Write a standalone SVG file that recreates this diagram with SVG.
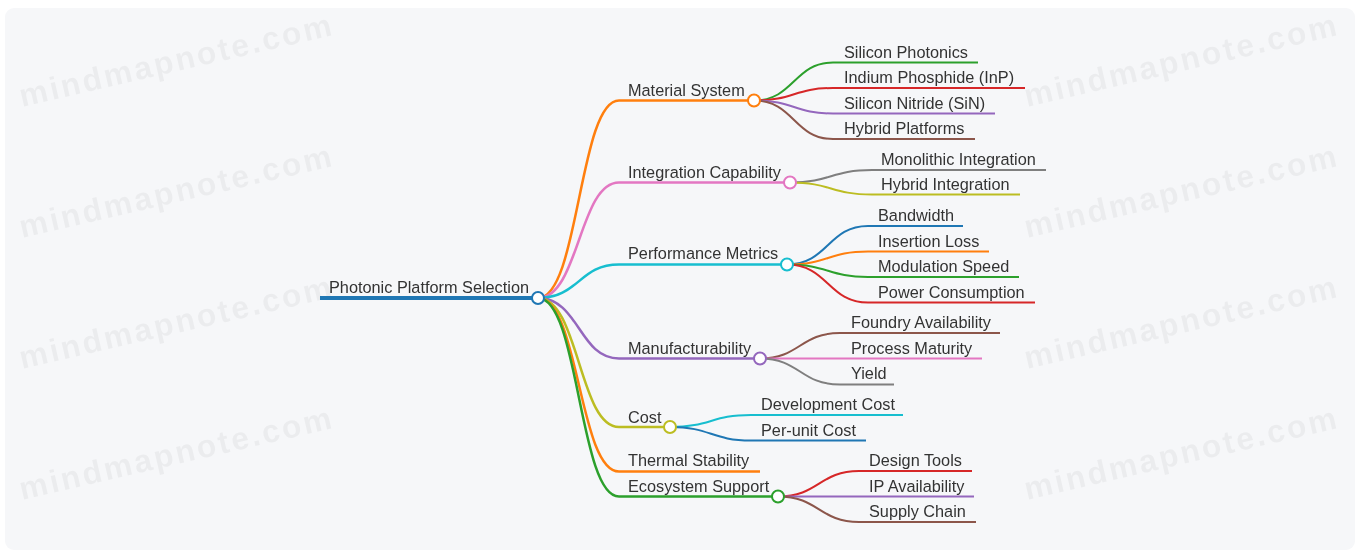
<svg xmlns="http://www.w3.org/2000/svg" width="1360" height="553" viewBox="0 0 1360 553">
<defs>
<filter id="soft" x="-5%" y="-20%" width="110%" height="140%"><feGaussianBlur stdDeviation="0.7"/></filter>
</defs>
<style>
.bg{fill:#f6f7f9}
.wm{font-family:"Liberation Sans",Arial,sans-serif;font-size:32px;font-weight:bold;letter-spacing:2.5px;fill:#000;fill-opacity:0.045}
.t{font-family:"Liberation Sans",Arial,sans-serif;font-size:16.3px;fill:#333}
.b{fill:none;stroke-width:2.5}
.l{fill:none;stroke-width:2}
.c{fill:#fff;stroke-width:2}
</style>
<rect x="0" y="0" width="1360" height="553" fill="#fff"/>
<rect class="bg" x="5" y="8" width="1350" height="542" rx="9"/>
<g id="watermarks" filter="url(#soft)">
<text class="wm" transform="translate(22,107) rotate(-13)">mindmapnote.com</text>
<text class="wm" transform="translate(22,238) rotate(-13)">mindmapnote.com</text>
<text class="wm" transform="translate(22,369) rotate(-13)">mindmapnote.com</text>
<text class="wm" transform="translate(22,500) rotate(-13)">mindmapnote.com</text>
<text class="wm" transform="translate(1027,107) rotate(-13)">mindmapnote.com</text>
<text class="wm" transform="translate(1027,238) rotate(-13)">mindmapnote.com</text>
<text class="wm" transform="translate(1027,369) rotate(-13)">mindmapnote.com</text>
<text class="wm" transform="translate(1027,500) rotate(-13)">mindmapnote.com</text>
</g>
<g id="connectors">
<path class="b" stroke="#ff7f0e" d="M538,298 C579,298 579,100.5 619,100.5 L754,100.5"/>
<path class="b" stroke="#e377c2" d="M538,298 C579,298 579,182.5 619,182.5 L790,182.5"/>
<path class="b" stroke="#17becf" d="M538,298 C579,298 579,264.5 619,264.5 L787,264.5"/>
<path class="b" stroke="#9467bd" d="M538,298 C579,298 579,358.5 619,358.5 L760,358.5"/>
<path class="b" stroke="#bcbd22" d="M538,298 C579,298 579,427 619,427 L670,427"/>
<path class="b" stroke="#ff7f0e" d="M538,298 C579,298 579,471.5 619,471.5 L760,471.5"/>
<path class="b" stroke="#2ca02c" d="M538,298 C579,298 579,496.5 619,496.5 L778,496.5"/>
<path class="l" stroke="#2ca02c" d="M754,100.5 C794,100.5 794,62.5 833,62.5 L978,62.5"/>
<path class="l" stroke="#d62728" d="M754,100.5 C794,100.5 794,88 833,88 L1025,88"/>
<path class="l" stroke="#9467bd" d="M754,100.5 C794,100.5 794,113.5 833,113.5 L995,113.5"/>
<path class="l" stroke="#8c564b" d="M754,100.5 C794,100.5 794,139 833,139 L975,139"/>
<path class="l" stroke="#7f7f7f" d="M790,182.5 C831,182.5 831,170 872,170 L1046,170"/>
<path class="l" stroke="#bcbd22" d="M790,182.5 C831,182.5 831,194.5 872,194.5 L1020,194.5"/>
<path class="l" stroke="#1f77b4" d="M787,264.5 C828,264.5 828,226 868,226 L963,226"/>
<path class="l" stroke="#ff7f0e" d="M787,264.5 C828,264.5 828,251.5 868,251.5 L989,251.5"/>
<path class="l" stroke="#2ca02c" d="M787,264.5 C828,264.5 828,277 868,277 L1019,277"/>
<path class="l" stroke="#d62728" d="M787,264.5 C828,264.5 828,302.5 868,302.5 L1035,302.5"/>
<path class="l" stroke="#8c564b" d="M760,358.5 C800,358.5 800,333 840,333 L1000,333"/>
<path class="l" stroke="#e377c2" d="M760,358.5 C800,358.5 800,358.5 840,358.5 L982,358.5"/>
<path class="l" stroke="#7f7f7f" d="M760,358.5 C800,358.5 800,384.5 840,384.5 L894,384.5"/>
<path class="l" stroke="#17becf" d="M670,427 C711,427 711,415 751,415 L903,415"/>
<path class="l" stroke="#1f77b4" d="M670,427 C711,427 711,440.5 751,440.5 L866,440.5"/>
<path class="l" stroke="#d62728" d="M778,496.5 C819,496.5 819,471 859,471 L972,471"/>
<path class="l" stroke="#9467bd" d="M778,496.5 C819,496.5 819,496.5 859,496.5 L974,496.5"/>
<path class="l" stroke="#8c564b" d="M778,496.5 C819,496.5 819,522 859,522 L976,522"/>
</g>
<g id="root">
<line x1="320" y1="298" x2="538" y2="298" stroke="#1f77b4" stroke-width="4"/>
<text class="t" x="329" y="293">Photonic Platform Selection</text>
<circle class="c" cx="538" cy="298" r="6" stroke="#1f77b4"/>
</g>
<g id="material-system">
<text class="t" x="628" y="96">Material System</text>
<circle class="c" cx="754" cy="100.5" r="6" stroke="#ff7f0e"/>
</g>
<g id="integration-capability">
<text class="t" x="628" y="178">Integration Capability</text>
<circle class="c" cx="790" cy="182.5" r="6" stroke="#e377c2"/>
</g>
<g id="performance-metrics">
<text class="t" x="628" y="259">Performance Metrics</text>
<circle class="c" cx="787" cy="264.5" r="6" stroke="#17becf"/>
</g>
<g id="manufacturability">
<text class="t" x="628" y="354">Manufacturability</text>
<circle class="c" cx="760" cy="358.5" r="6" stroke="#9467bd"/>
</g>
<g id="cost">
<text class="t" x="628" y="423">Cost</text>
<circle class="c" cx="670" cy="427" r="6" stroke="#bcbd22"/>
</g>
<g id="thermal-stability">
<text class="t" x="628" y="466">Thermal Stability</text>
</g>
<g id="ecosystem-support">
<text class="t" x="628" y="492">Ecosystem Support</text>
<circle class="c" cx="778" cy="496.5" r="6" stroke="#2ca02c"/>
</g>
<g id="leaves">
<g id="silicon-photonics"><text class="t" x="844" y="58">Silicon Photonics</text></g>
<g id="indium-phosphide"><text class="t" x="844" y="83">Indium Phosphide (InP)</text></g>
<g id="silicon-nitride"><text class="t" x="844" y="109">Silicon Nitride (SiN)</text></g>
<g id="hybrid-platforms"><text class="t" x="844" y="134">Hybrid Platforms</text></g>
<g id="monolithic-integration"><text class="t" x="881" y="165">Monolithic Integration</text></g>
<g id="hybrid-integration"><text class="t" x="881" y="190">Hybrid Integration</text></g>
<g id="bandwidth"><text class="t" x="878" y="221">Bandwidth</text></g>
<g id="insertion-loss"><text class="t" x="878" y="247">Insertion Loss</text></g>
<g id="modulation-speed"><text class="t" x="878" y="272">Modulation Speed</text></g>
<g id="power-consumption"><text class="t" x="878" y="298">Power Consumption</text></g>
<g id="foundry-availability"><text class="t" x="851" y="328">Foundry Availability</text></g>
<g id="process-maturity"><text class="t" x="851" y="354">Process Maturity</text></g>
<g id="yield"><text class="t" x="851" y="379">Yield</text></g>
<g id="development-cost"><text class="t" x="761" y="410">Development Cost</text></g>
<g id="per-unit-cost"><text class="t" x="761" y="436">Per-unit Cost</text></g>
<g id="design-tools"><text class="t" x="869" y="466">Design Tools</text></g>
<g id="ip-availability"><text class="t" x="869" y="492">IP Availability</text></g>
<g id="supply-chain"><text class="t" x="869" y="517">Supply Chain</text></g>
</g>
</svg>
